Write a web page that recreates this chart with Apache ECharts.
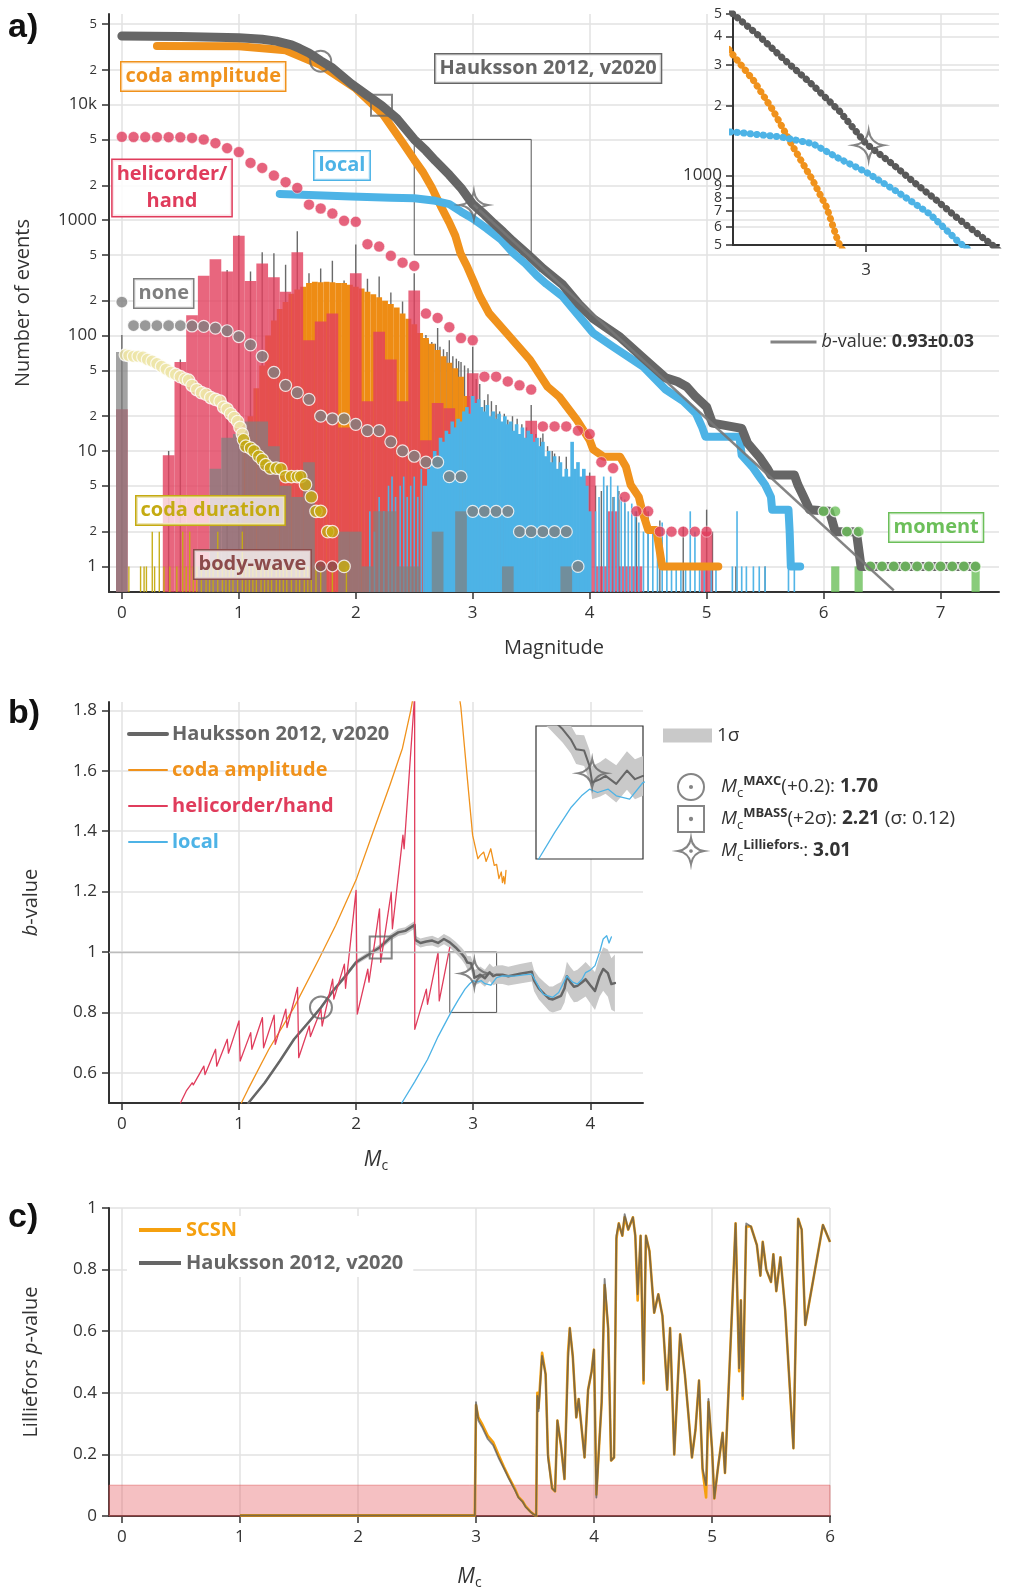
<!DOCTYPE html>
<html>
<head>
<meta charset="utf-8">
<title>Magnitude of completeness</title>
<script src="https://cdn.jsdelivr.net/npm/echarts@6/dist/echarts.min.js"></script>
<style>
  html, body { margin: 0; padding: 0; background: #fff; }
  #chart { width: 1009px; height: 1595px; }
</style>
</head>
<body>
<div id="chart"></div>
<script>
// ---------- a) cumulative counts [magnitude, number of events] ----------
const haukCum = [[0,39300],[0.5,39000],[1.0,38000],[1.2,36800],[1.32,35500],[1.45,33000],[1.52,30700],[1.6,28000],[1.7,24000],[1.8,20800],[1.96,15200],[2.1,12000],[2.22,9860],[2.35,7600],[2.5,5000],[2.6,4000],[2.68,3270],[2.8,2460],[2.9,1900],[3.0,1373],[3.1,1120],[3.18,935],[3.26,790],[3.34,659],[3.47,505],[3.6,380],[3.77,275],[3.91,186],[4.03,140],[4.25,98.6],[4.45,65],[4.65,43],[4.75,40],[4.83,36],[4.9,30],[5.0,24],[5.05,17.4],[5.3,15.7],[5.35,11.7],[5.45,8.9],[5.52,7],[5.55,6.2],[5.75,6.2],[5.78,5.1],[5.83,4],[5.88,3.1],[6.05,3],[6.1,2],[6.28,2],[6.32,1],[7.3,1]];
const codaAmpCum = [[0.3,32200],[1.0,32000],[1.4,29600],[1.7,22000],[2.0,13800],[2.23,8300],[2.4,4700],[2.5,3325],[2.576,2590],[2.65,1917],[2.726,1328],[2.8,951],[2.852,728],[2.896,513],[2.95,400],[3.01,290],[3.06,220],[3.14,156],[3.29,105],[3.49,61.6],[3.64,36],[3.74,29.5],[3.89,18.6],[4.0,12.4],[4.03,10.3],[4.12,8.9],[4.26,8.9],[4.31,7.3],[4.35,5.1],[4.42,4],[4.45,3],[4.5,2.07],[4.57,2.07],[4.62,1],[5.1,1]];
const localCum = [[1.35,1683],[1.6,1650],[1.96,1600],[2.3,1560],[2.5,1543],[2.68,1468],[2.8,1373],[2.9,1182],[3.0,1034],[3.12,846],[3.24,681],[3.35,513],[3.45,420],[3.55,330],[3.63,280],[3.77,217],[4.03,105],[4.2,80],[4.46,53.5],[4.65,34],[4.8,27],[4.91,21],[4.96,16.2],[4.99,13.3],[5.28,13.3],[5.3,9.2],[5.39,7.3],[5.45,6],[5.5,5.1],[5.55,4],[5.56,3.1],[5.7,3.1],[5.71,2],[5.72,1],[5.8,1]];
const heliCum = [[0,5260],[0.1,5240],[0.2,5235],[0.3,5230],[0.4,5225],[0.5,5215],[0.6,5150],[0.7,4990],[0.8,4640],[0.9,4200],[1.0,3880],[1.1,3130],[1.2,2830],[1.3,2430],[1.4,2130],[1.5,1900],[1.6,1360],[1.7,1260],[1.8,1140],[1.9,986],[2.0,967],[2.1,618],[2.2,590],[2.3,490],[2.4,428],[2.5,401],[2.6,155],[2.7,142],[2.8,118],[2.9,95],[3.0,91],[3.1,44],[3.2,44],[3.3,40],[3.4,37],[3.5,34],[3.6,16.3],[3.7,16.3],[3.8,16.3],[3.9,15],[4.0,14],[4.1,8],[4.2,7.1],[4.3,4],[4.4,3],[4.5,3],[4.6,2],[4.7,2],[4.8,2],[4.9,2],[5.0,2]];
const noneCum = [[0,195],[0.1,122],[0.2,122],[0.3,122],[0.4,122],[0.5,122],[0.6,121],[0.7,120],[0.8,116],[0.9,110],[1.0,98],[1.1,83],[1.2,66],[1.3,48],[1.4,37],[1.5,32],[1.6,28],[1.7,20],[1.8,19],[1.9,19],[2.0,17],[2.1,15],[2.2,15],[2.3,12],[2.4,10],[2.5,9],[2.6,8],[2.7,8],[2.8,6],[2.9,6],[3.0,3],[3.1,3],[3.2,3],[3.3,3],[3.4,2],[3.5,2],[3.6,2],[3.7,2],[3.8,2],[3.9,1]];
const codaDurCum = [[0.03,68],[0.06,67],[0.1,66],[0.14,66],[0.18,65],[0.22,62],[0.26,60],[0.3,57],[0.34,54],[0.38,51],[0.42,48],[0.46,46],[0.5,44],[0.54,42],[0.57,41],[0.6,37],[0.64,34],[0.68,32],[0.72,31],[0.76,29],[0.8,28],[0.84,27],[0.87,24],[0.9,23],[0.93,21],[0.96,19.5],[0.99,18],[1.01,16],[1.03,14],[1.04,12.5],[1.06,11],[1.1,10.6],[1.13,10],[1.17,9],[1.2,8.4],[1.23,7.6],[1.27,7.1],[1.32,7.1],[1.36,7],[1.4,6],[1.45,6],[1.5,6],[1.53,6],[1.57,5.1],[1.62,4],[1.66,3],[1.7,3],[1.76,2],[1.8,2],[1.9,1]];
const bodyCum = [[1.7,1],[1.8,1]];
const momentCum = [[6.0,3],[6.1,3],[6.2,2],[6.3,2],[6.4,1],[6.5,1],[6.6,1],[6.7,1],[6.8,1],[6.9,1],[7.0,1],[7.1,1],[7.2,1],[7.3,1]];

// ---------- a) histograms [magnitude, count] ----------
const haukHist = [[0.0,101],[0.4,10],[0.5,62],[0.9,370],[1.0,740],[1.1,358],[1.2,527],[1.3,515],[1.4,410],[1.5,800],[1.6,347],[1.7,380],[1.8,445],[1.9,300],[2.0,613],[2.1,310],[2.2,324],[2.3,236],[2.4,197],[2.5,347],[2.6,101],[2.62,92],[2.65,88],[2.68,85],[2.7,116],[2.72,80],[2.75,76],[2.78,72],[2.8,91],[2.83,66],[2.86,63],[2.88,60],[2.9,59],[2.93,55],[2.96,52],[3.0,80],[3.03,42],[3.06,38],[3.1,27.6],[3.13,31],[3.16,27],[3.2,25],[3.23,22],[3.27,21],[3.3,18.6],[3.34,20],[3.38,19],[3.42,17],[3.46,16],[3.5,25],[3.54,14],[3.58,13],[3.6,14.2],[3.64,11],[3.68,10],[3.7,9.5],[3.74,9],[3.8,8.9],[3.85,8],[3.9,7.5],[3.95,6],[4.0,6.5],[4.05,5],[4.1,4.5],[4.15,5],[4.2,4],[4.25,4.5],[4.3,3.5],[4.4,3],[4.5,3],[4.6,2.5],[4.8,2.2],[5.0,3.1],[5.05,2],[5.25,1],[5.5,1]];
const codaAmpHist = [[1.05,12],[1.1,20],[1.15,35],[1.2,55],[1.25,100],[1.3,135],[1.35,170],[1.4,195],[1.45,230],[1.5,250],[1.55,265],[1.6,285],[1.65,292],[1.7,290],[1.75,292],[1.8,290],[1.85,285],[1.9,285],[1.95,275],[2.0,265],[2.05,255],[2.1,240],[2.15,228],[2.2,215],[2.25,200],[2.3,188],[2.35,175],[2.4,155],[2.45,140],[2.5,125],[2.55,105],[2.6,95],[2.65,85],[2.7,75],[2.75,66],[2.8,58],[2.85,52],[2.9,44],[2.95,30]];
const heliHist = [[0.0,23],[0.4,9.2],[0.5,59],[0.6,150],[0.7,330],[0.8,458],[0.9,358],[1.0,733],[1.1,296],[1.2,420],[1.3,320],[1.4,240],[1.5,527],[1.6,91],[1.7,132],[1.8,155],[1.9,16],[2.0,347],[2.1,27],[2.2,108],[2.3,62],[2.4,27],[2.5,245],[2.6,12.4],[2.7,26],[2.8,23.4],[2.9,3],[3.0,47],[3.2,3],[3.3,3.5],[3.4,3.5],[3.5,18.3],[3.9,1],[4.0,6.1],[4.1,1],[4.2,3],[4.3,1],[4.4,1],[5.0,2]];
const localHist = [[2.6,5],[2.625,7],[2.65,8],[2.675,10],[2.7,9],[2.725,13],[2.75,12],[2.775,15],[2.8,14],[2.825,18],[2.85,16],[2.875,19],[2.9,18],[2.925,22],[2.95,24],[2.975,21],[3.0,30],[3.025,26],[3.05,28],[3.075,24],[3.1,22],[3.125,25],[3.15,20],[3.175,22],[3.2,19],[3.225,21],[3.25,18],[3.275,20],[3.3,17],[3.325,18],[3.35,15],[3.375,17],[3.4,14],[3.425,16],[3.45,13],[3.475,15],[3.5,14],[3.525,12],[3.55,13],[3.575,11],[3.6,12],[3.625,9],[3.65,10],[3.675,8],[3.7,9],[3.725,7],[3.75,8],[3.775,6],[3.8,7],[3.825,6],[3.85,12],[3.875,7],[3.9,8],[3.925,6],[3.95,7],[3.975,5],[4.0,3]];
const localHistSparse = [[2.12,3],[2.16,2],[2.2,4],[2.24,3],[2.28,5],[2.31,6],[2.34,4],[2.38,5],[2.41,6],[2.44,4],[2.47,5],[2.5,6],[2.53,4],[2.56,7],[2.58,5],[4.05,3],[4.08,4],[4.12,6],[4.15,5],[4.18,6],[4.21,4],[4.24,5],[4.27,4],[4.3,3.8],[4.33,3],[4.36,3.5],[4.39,3],[4.42,2.4],[4.46,2],[4.5,2.4],[4.54,2],[4.58,2],[4.62,2.4],[4.66,2],[4.7,1],[4.74,1],[4.78,1],[4.82,1],[4.86,3],[4.9,2],[4.94,1],[4.98,1],[5.04,1],[5.08,1],[5.22,1],[5.26,3],[5.3,1],[5.34,1],[5.4,1],[5.45,1],[5.5,1],[5.7,1],[5.75,1]];
const noneHist = [[0.0,72],[0.7,1],[0.8,7],[0.9,13],[1.0,14],[1.1,18],[1.2,18],[1.3,11],[1.4,5],[1.5,4],[1.6,8],[1.7,1],[1.9,2],[2.0,2],[2.1,1],[2.2,3],[2.3,3],[2.4,1],[2.5,1],[2.7,2],[2.9,3],[3.3,1],[3.8,1]];
const codaDurHist = [[0.06,1],[0.16,1],[0.19,1],[0.21,1],[0.26,2],[0.28,1],[0.32,2],[0.36,1],[0.41,1],[0.47,1],[0.52,2],[0.55,1],[0.58,2],[0.61,1],[0.64,1],[0.68,1],[0.72,1],[0.75,1],[0.78,1],[0.82,2],[0.86,1],[0.89,1],[0.92,1],[0.95,1],[0.99,1],[1.03,2],[1.06,1],[1.09,1],[1.12,1],[1.15,1],[1.19,1],[1.22,1],[1.25,1],[1.28,1],[1.32,1],[1.35,1],[1.38,1],[1.41,1],[1.45,1],[1.49,1],[1.52,1],[1.56,1],[1.59,1],[1.62,1],[1.66,1],[1.7,1],[1.8,1],[1.92,1]];
const momentHist = [[6.1,1],[6.3,1],[7.3,1]];

// Gutenberg-Richter fit and completeness estimates
const bFitLine = [[3.01,1350],[6.6,0.62]];
const bFitText = '0.93±0.03';
const mcMaxcA = [[1.70,23800]];
const mcMbassA = [[2.22,9900]];
const mcLillieA = [[3.01,1350]];
const insetBoxA = [[2.5,500],[3.5,5000]];

const xTicksA = [0,1,2,3,4,5,6,7];
const yTicksA = [1,2,5,10,20,50,100,200,500,1000,2000,5000,10000,20000,50000];
const yTickLabelsA = ['1','2','5','10','2','5','100','2','5','1000','2','5','10k','2','5'];
const yTicksInset = [500,600,700,800,900,1000,2000,3000,4000,5000];
const yTickLabelsInset = ['5','6','7','8','9','1000','2','3','4','5'];

// ---------- b) b-value vs Mc ----------
const bHaukM =   [1.08,1.22,1.35,1.47,1.6,1.70,1.8,1.9,2.0,2.1,2.2,2.3,2.36,2.42,2.5,2.505,2.55,2.6,2.65,2.7,2.75,2.8,2.85,2.9,2.93,2.95,2.98,3.0,3.01,3.04,3.06,3.1,3.14,3.17,3.2,3.25,3.3,3.4,3.5,3.52,3.56,3.61,3.65,3.68,3.72,3.75,3.78,3.8,3.83,3.86,3.89,3.93,3.96,4.0,4.04,4.08,4.11,4.15,4.18,4.21];
const bHaukVal = [0.5,0.567,0.64,0.711,0.77,0.816,0.87,0.916,0.966,0.99,1.015,1.05,1.065,1.07,1.09,1.04,1.03,1.035,1.038,1.03,1.043,1.032,1.015,0.995,0.98,0.965,0.963,0.94,0.915,0.92,0.925,0.913,0.933,0.92,0.925,0.925,0.92,0.928,0.935,0.905,0.88,0.86,0.845,0.843,0.85,0.855,0.88,0.92,0.9,0.885,0.888,0.9,0.91,0.89,0.871,0.92,0.944,0.93,0.894,0.897];
const bHaukSig = [0.004,0.004,0.005,0.005,0.006,0.006,0.007,0.007,0.008,0.009,0.01,0.011,0.012,0.012,0.013,0.014,0.015,0.015,0.016,0.016,0.017,0.018,0.019,0.02,0.021,0.022,0.023,0.024,0.025,0.026,0.027,0.028,0.029,0.03,0.03,0.031,0.031,0.032,0.033,0.035,0.037,0.039,0.041,0.043,0.045,0.046,0.047,0.048,0.05,0.051,0.053,0.055,0.057,0.06,0.063,0.067,0.072,0.078,0.085,0.095];
const bCodaLow = [[1.02,0.5],[1.077,0.545],[1.255,0.678],[1.469,0.816],[1.683,0.977],[1.825,1.088],[2.004,1.243],[2.146,1.398],[2.289,1.553],[2.396,1.675],[2.467,1.8],[2.49,1.85]];
const bCodaHigh = [[2.88,1.85],[2.895,1.81],[2.95,1.575],[2.995,1.387],[3.04,1.309],[3.06,1.32],[3.09,1.331],[3.11,1.3],[3.13,1.32],[3.15,1.342],[3.18,1.287],[3.2,1.29],[3.22,1.243],[3.24,1.265],[3.25,1.23],[3.26,1.25],[3.27,1.226],[3.28,1.27]];
const bHeli = [[0.5,0.5],[0.55,0.54],[0.6,0.567],[0.61,0.56],[0.7,0.622],[0.71,0.594],[0.8,0.678],[0.81,0.622],[0.9,0.711],[0.91,0.665],[1.0,0.772],[1.01,0.639],[1.1,0.733],[1.11,0.678],[1.2,0.783],[1.21,0.683],[1.3,0.791],[1.31,0.694],[1.4,0.811],[1.41,0.75],[1.5,0.883],[1.51,0.65],[1.6,0.755],[1.61,0.72],[1.7,0.81],[1.71,0.755],[1.8,0.91],[1.81,0.844],[1.9,0.96],[1.91,0.88],[2.0,1.204],[2.01,0.794],[2.1,0.943],[2.11,0.9],[2.2,1.143],[2.21,0.966],[2.3,1.198],[2.31,1.077],[2.4,1.387],[2.41,1.342],[2.5,1.85],[2.501,0.744],[2.6,0.877],[2.61,0.827],[2.7,0.999],[2.71,0.838],[2.8,1.015]];
const bLocal = [[2.39,0.5],[2.5,0.57],[2.61,0.644],[2.7,0.72],[2.81,0.8],[2.87,0.84],[2.93,0.877],[2.97,0.895],[3.0,0.905],[3.03,0.9],[3.07,0.905],[3.1,0.895],[3.15,0.89],[3.2,0.915],[3.25,0.921],[3.35,0.92],[3.45,0.925],[3.5,0.927],[3.57,0.877],[3.6,0.86],[3.64,0.855],[3.68,0.85],[3.73,0.866],[3.8,0.921],[3.85,0.9],[3.89,0.894],[3.93,0.91],[3.96,0.932],[4.0,0.94],[4.04,0.955],[4.08,1.0],[4.11,1.043],[4.14,1.054],[4.16,1.03],[4.18,1.05]];
const mcMaxcB = [[1.70,0.816]];
const mcMbassB = [[2.21,1.015]];
const mcLillieB = [[3.01,0.929]];
const insetBoxB = [[2.8,0.8],[3.2,1.0]];
const xTicksB = [0,1,2,3,4];
const yTicksB = [0.6,0.8,1,1.2,1.4,1.6,1.8];

// ---------- c) Lilliefors p-value vs Mc ----------
const pM =    [1.0,2.99,3.0,3.02,3.05,3.1,3.145,3.19,3.236,3.28,3.33,3.36,3.395,3.42,3.46,3.49,3.51,3.52,3.53,3.56,3.59,3.61,3.645,3.67,3.69,3.72,3.75,3.78,3.795,3.82,3.85,3.87,3.92,3.95,3.98,4.0,4.02,4.045,4.065,4.09,4.12,4.145,4.17,4.19,4.21,4.24,4.26,4.29,4.33,4.35,4.37,4.395,4.42,4.44,4.47,4.51,4.545,4.58,4.62,4.645,4.68,4.73,4.77,4.8,4.83,4.86,4.89,4.92,4.95,4.97,5.0,5.02,5.05,5.09,5.11,5.17,5.2,5.23,5.245,5.26,5.29,5.33,5.38,5.41,5.43,5.46,5.5,5.52,5.545,5.58,5.62,5.69,5.73,5.76,5.79,5.94,6.0];
const pHauk = [0.002,0.002,0.37,0.31,0.29,0.25,0.23,0.19,0.155,0.12,0.084,0.06,0.046,0.03,0.014,0.005,0.0,0.39,0.34,0.52,0.46,0.19,0.09,0.08,0.31,0.23,0.12,0.51,0.61,0.52,0.32,0.38,0.19,0.41,0.47,0.54,0.06,0.24,0.37,0.77,0.61,0.18,0.19,0.91,0.95,0.91,0.98,0.93,0.97,0.91,0.72,0.91,0.44,0.91,0.86,0.66,0.72,0.65,0.41,0.61,0.2,0.59,0.46,0.33,0.19,0.28,0.44,0.155,0.1,0.38,0.22,0.057,0.155,0.27,0.14,0.67,0.95,0.48,0.7,0.39,0.95,0.94,0.88,0.78,0.89,0.8,0.76,0.85,0.73,0.84,0.67,0.22,0.965,0.93,0.62,0.945,0.89];
const pSCSN = [0.002,0.002,0.36,0.32,0.3,0.26,0.24,0.2,0.16,0.125,0.088,0.062,0.048,0.032,0.015,0.005,0.0,0.4,0.35,0.53,0.46,0.2,0.09,0.08,0.31,0.23,0.12,0.53,0.61,0.52,0.32,0.38,0.19,0.41,0.47,0.54,0.07,0.24,0.37,0.75,0.61,0.18,0.19,0.9,0.95,0.91,0.97,0.93,0.97,0.91,0.7,0.91,0.43,0.91,0.86,0.66,0.72,0.65,0.41,0.61,0.2,0.59,0.46,0.33,0.19,0.28,0.44,0.15,0.06,0.37,0.22,0.057,0.155,0.27,0.14,0.67,0.95,0.47,0.7,0.38,0.94,0.94,0.88,0.78,0.89,0.8,0.76,0.85,0.73,0.84,0.67,0.22,0.965,0.93,0.62,0.945,0.89];
const pRejectBelow = 0.1;
const xTicksC = [0,1,2,3,4,5,6];

// ---------- styling ----------
const FONT = "'Open Sans', 'DejaVu Sans', sans-serif";
const AXIS_COLOR = '#333';
const GRID_COLOR = '#e2e2e2';
const GRAY = '#666666';
const ORANGE = '#F0921C';
const ORANGE_HIST = '#EE8C14';
const SCSN_ORANGE = '#F5A00F';
const RED = '#E03C5C';
const BLUE = '#4DB3E6';
const GREEN = '#6CBF5A';
const OLIVE = '#C5AB12';
const PALE_OLIVE = '#EEE5A6';
const BROWN = '#8C4B4B';
const NONE_GRAY = '#7f7f7f';
const X_MIN = -0.11;
const A_YMIN = 0.6;
const A_YMAX = 61000;
const CODA_PALE_UNTIL = 1.04;
const NOSYM = { color: 'rgba(0,0,0,0)', borderWidth: 0 };
const STAR = 'path://M12,0Q13.6,10.4,24,12Q13.6,13.6,12,24Q10.4,13.6,0,12Q10.4,10.4,12,0Z';
const CIRCLE_DOT = 'path://M12,2A10,10,0,1,1,11.99,2ZM12,11.2A0.8,0.8,0,1,1,11.99,11.2Z';
const SQUARE_DOT = 'path://M3,3H21V21H3ZM12,11.2A0.8,0.8,0,1,1,11.99,11.2Z';
const STAR_DOT = 'path://M12,0Q13.6,10.4,24,12Q13.6,13.6,12,24Q10.4,13.6,0,12Q10.4,10.4,12,0ZM12,11.2A0.8,0.8,0,1,1,11.99,11.2Z';

function deepMerge(a, b) {
  const out = Object.assign({}, a);
  for (const k in b) {
    const v = b[k];
    if (v && typeof v === 'object' && !Array.isArray(v) && a[k] && typeof a[k] === 'object' && !Array.isArray(a[k])) {
      out[k] = deepMerge(a[k], v);
    } else {
      out[k] = v;
    }
  }
  return out;
}

function axis(gridIndex, extra) {
  const base = {
    gridIndex,
    type: 'value',
    axisLine: { show: true, onZero: false, lineStyle: { color: AXIS_COLOR, width: 2 } },
    axisTick: { show: true, length: 7, lineStyle: { color: AXIS_COLOR, width: 1.5 } },
    axisLabel: { color: '#333', fontSize: 17, fontFamily: FONT, margin: 12 },
    splitLine: { show: true, lineStyle: { color: GRID_COLOR, width: 1.5 } },
    nameTextStyle: { color: '#333', fontSize: 20, fontFamily: FONT }
  };
  return deepMerge(base, extra);
}

function tickLabel(ticks, labels) {
  return function (v) {
    let i = ticks.findIndex(t => Math.abs(t - v) <= Math.abs(t) * 1e-6);
    if (i < 0) i = ticks.findIndex(t => Math.abs(t - Math.pow(10, v)) <= t * 1e-6);
    if (i < 0) return '';
    const s = labels[i];
    return (s.length > 1 || s === '1') ? '{big|' + s + '}' : '{sm|' + s + '}';
  };
}

function histSeries(name, data, binWidth, color, opacity, z) {
  return {
    type: 'custom', name, xAxisIndex: 0, yAxisIndex: 0, z, silent: true,
    encode: { x: 0, y: 1 },
    data,
    renderItem(params, api) {
      const m = api.value(0), n = api.value(1);
      const tl = api.coord([m - binWidth / 2, n]);
      const br = api.coord([m + binWidth / 2, A_YMIN]);
      return {
        type: 'rect',
        shape: { x: tl[0], y: tl[1], width: Math.max(1.2, br[0] - tl[0]), height: br[1] - tl[1] },
        style: { fill: color, opacity }
      };
    }
  };
}

function dotSeries(name, data, color, size, border, z) {
  return {
    type: 'scatter', name, xAxisIndex: 0, yAxisIndex: 0, data, symbolSize: size, z, silent: true,
    itemStyle: { color, borderColor: '#fff', borderWidth: border }
  };
}

function lineSeries(name, data, color, width, xi, yi, z, extra) {
  return Object.assign({
    type: 'line', name, xAxisIndex: xi, yAxisIndex: yi, data, symbol: 'none', z, silent: true,
    lineStyle: { color, width, cap: 'round', join: 'round' }
  }, extra || {});
}

function markerSeries(name, data, symbol, size, xi, yi, z) {
  return {
    type: 'scatter', name, xAxisIndex: xi, yAxisIndex: yi, data, symbol, symbolSize: size, z, silent: true,
    itemStyle: { color: 'rgba(0,0,0,0)', borderColor: GRAY, borderWidth: 2 }
  };
}

const bandRows = bHaukM.map((m, i) => [m, bHaukVal[i] - bHaukSig[i], bHaukVal[i] + bHaukSig[i]]);
const bHaukLine = bHaukM.map((m, i) => [m, bHaukVal[i]]);
function bandSeries(name, xi, yi, z) {
  return {
    type: 'custom', name, xAxisIndex: xi, yAxisIndex: yi, z, silent: true, clip: true,
    encode: { x: 0, y: [1, 2] },
    data: bandRows,
    itemStyle: { color: '#c9c9c9' },
    renderItem(params, api) {
      if (params.dataIndex !== 0) return;
      const upper = bandRows.map(r => api.coord([r[0], r[2]]));
      const lower = bandRows.map(r => api.coord([r[0], r[1]])).reverse();
      return { type: 'polygon', shape: { points: upper.concat(lower) }, style: { fill: '#c9c9c9' } };
    }
  };
}

function boxLabel(text, left, top, color, bg) {
  return {
    type: 'text', left, top, z: 50, silent: true,
    style: {
      text, fill: color, fontFamily: FONT, fontWeight: 'bold', fontSize: 20, lineHeight: 26,
      backgroundColor: bg || 'rgba(255,255,255,0.85)', borderColor: color, borderWidth: 1.5, padding: [1, 4, 1, 4]
    }
  };
}

const markerLabels = {
  maxc: '{sp| }{m|M}{sub|c}{sup|MAXC}{t|(+0.2): }{b|1.70}',
  mbass: '{sp| }{m|M}{sub|c}{sup|MBASS}{t|(+2σ): }{b|2.21}{t| (σ: 0.12)}',
  lillie: '{sp| }{m|M}{sub|c}{sup|Lilliefors.}{t|: }{b|3.01}'
};
const richBase = { fontFamily: FONT, color: '#333' };

const option = {
  animation: false,
  backgroundColor: '#fff',
  textStyle: { fontFamily: FONT },
  grid: [
    { left: 109, top: 14, width: 890, height: 578 },
    { left: 733, top: 14, width: 266, height: 231 },
    { left: 109, top: 702, width: 534, height: 401 },
    { left: 536, top: 726, width: 107, height: 133, show: true, backgroundColor: '#fff', borderColor: '#333', borderWidth: 1.2, z: 3 },
    { left: 109, top: 1208, width: 721, height: 308 }
  ],
  xAxis: [
    axis(0, { min: X_MIN, max: 7.5, axisTick: { customValues: xTicksA }, axisLabel: { customValues: xTicksA, margin: 13 },
      name: 'Magnitude', nameLocation: 'middle', nameGap: 46 }),
    axis(1, { min: insetBoxA[0][0], max: insetBoxA[1][0], axisTick: { customValues: [3] }, axisLabel: { customValues: [3], margin: 17 } }),
    axis(2, { min: X_MIN, max: 4.45, axisTick: { customValues: xTicksB }, axisLabel: { customValues: xTicksB, margin: 13 },
      name: '{i|M}{s|c}', nameLocation: 'middle', nameGap: 44,
      nameTextStyle: { rich: { i: Object.assign({ fontSize: 21, fontStyle: 'italic' }, richBase), s: Object.assign({ fontSize: 14, padding: [12, 0, 0, 0] }, richBase) } } }),
    axis(3, { min: insetBoxB[0][0], max: insetBoxB[1][0], show: false }),
    axis(4, { min: X_MIN, max: 6, axisTick: { customValues: xTicksC }, axisLabel: { customValues: xTicksC, margin: 13 },
      name: '{i|M}{s|c}', nameLocation: 'middle', nameGap: 48,
      nameTextStyle: { rich: { i: Object.assign({ fontSize: 21, fontStyle: 'italic' }, richBase), s: Object.assign({ fontSize: 14, padding: [12, 0, 0, 0] }, richBase) } } })
  ],
  yAxis: [
    axis(0, { type: 'log', logBase: 10, min: A_YMIN, max: A_YMAX,
      axisTick: { customValues: yTicksA },
      axisLabel: { customValues: yTicksA, formatter: tickLabel(yTicksA, yTickLabelsA),
        rich: { big: Object.assign({ fontSize: 17 }, richBase), sm: Object.assign({ fontSize: 13 }, richBase) } },
      name: 'Number of events', nameLocation: 'middle', nameGap: 76 }),
    axis(1, { type: 'log', logBase: 10, min: insetBoxA[0][1], max: insetBoxA[1][1],
      axisTick: { customValues: yTicksInset },
      axisLabel: { customValues: yTicksInset, formatter: tickLabel(yTicksInset, yTickLabelsInset), margin: 11,
        rich: { big: Object.assign({ fontSize: 17 }, richBase), sm: Object.assign({ fontSize: 14, lineHeight: 14 }, richBase) } } }),
    axis(2, { min: 0.5, max: 1.828, axisTick: { customValues: yTicksB }, axisLabel: { customValues: yTicksB },
      name: '{i|b}-value', nameLocation: 'middle', nameGap: 68,
      nameTextStyle: { rich: { i: Object.assign({ fontSize: 20, fontStyle: 'italic' }, richBase) } } }),
    axis(3, { min: insetBoxB[0][1], max: insetBoxB[1][1], show: false }),
    axis(4, { min: 0, max: 1, interval: 0.2, axisLabel: { formatter: v => String(Math.round(v * 10) / 10) },
      name: 'Lilliefors {i|p}-value', nameLocation: 'middle', nameGap: 68,
      nameTextStyle: { rich: { i: Object.assign({ fontSize: 20, fontStyle: 'italic' }, richBase) } } })
  ],
  legend: [
    {
      left: 764, top: 328, itemWidth: 46, itemHeight: 14, selectedMode: false,
      data: [{ name: 'a-fit', itemStyle: NOSYM, lineStyle: { width: 3, color: '#777' } }],
      formatter: () => '{i|b}-value: {v|' + bFitText + '}',
      textStyle: { fontFamily: FONT, fontSize: 18, color: '#333',
        rich: { i: Object.assign({ fontSize: 18, fontStyle: 'italic' }, richBase), v: Object.assign({ fontSize: 18, fontWeight: 'bold' }, richBase) } }
    },
    {
      orient: 'vertical', left: 122, top: 719, itemGap: 16, itemWidth: 38, itemHeight: 14, selectedMode: false,
      textStyle: { fontFamily: FONT, fontSize: 20, fontWeight: 'bold' },
      data: [
        { name: 'Hauksson 2012, v2020', itemStyle: NOSYM, lineStyle: { width: 4, color: GRAY }, textStyle: { color: GRAY } },
        { name: 'coda amplitude', itemStyle: NOSYM, lineStyle: { width: 2, color: ORANGE }, textStyle: { color: ORANGE } },
        { name: 'helicorder/hand', itemStyle: NOSYM, lineStyle: { width: 2, color: RED }, textStyle: { color: RED } },
        { name: 'local', itemStyle: NOSYM, lineStyle: { width: 2, color: BLUE }, textStyle: { color: BLUE } }
      ]
    },
    {
      left: 658, top: 721, itemWidth: 49, itemHeight: 14, selectedMode: false,
      data: [{ name: '1σ', icon: 'rect', itemStyle: { color: '#c9c9c9' } }],
      textStyle: { fontFamily: FONT, fontSize: 19, color: '#333' }
    },
    {
      orient: 'vertical', left: 672, top: 768, itemGap: 4, itemWidth: 26, itemHeight: 26, selectedMode: false,
      data: [{ name: 'maxc', icon: CIRCLE_DOT }, { name: 'mbass', icon: SQUARE_DOT }, { name: 'lillie', icon: STAR_DOT }],
      formatter: n => markerLabels[n],
      textStyle: { fontFamily: FONT, fontSize: 19, color: '#333',
        rich: {
          sp: { width: 12 },
          m: Object.assign({ fontSize: 19, fontStyle: 'italic' }, richBase),
          sub: Object.assign({ fontSize: 13, padding: [12, 0, 0, 0] }, richBase),
          sup: Object.assign({ fontSize: 13, fontWeight: 'bold', padding: [0, 0, 12, 0] }, richBase),
          t: Object.assign({ fontSize: 19 }, richBase),
          b: Object.assign({ fontSize: 19, fontWeight: 'bold' }, richBase)
        } }
    },
    {
      orient: 'vertical', left: 127, top: 1216, itemGap: 13, itemWidth: 42, itemHeight: 14, selectedMode: false,
      backgroundColor: '#fff', padding: [4, 10, 4, 10],
      textStyle: { fontFamily: FONT, fontSize: 20, fontWeight: 'bold' },
      formatter: n => (n === 'c-scsn' ? 'SCSN' : 'Hauksson 2012, v2020'),
      data: [
        { name: 'c-scsn', itemStyle: NOSYM, lineStyle: { width: 4, color: SCSN_ORANGE, opacity: 1 }, textStyle: { color: SCSN_ORANGE } },
        { name: 'c-hauk', itemStyle: NOSYM, lineStyle: { width: 4, color: GRAY, opacity: 1 }, textStyle: { color: GRAY } }
      ]
    }
  ],
  graphic: [
    { type: 'text', left: 8, top: 11, silent: true, style: { text: 'a)', fill: '#111', fontFamily: "'Liberation Sans', Arial, sans-serif", fontWeight: 'bold', fontSize: 34 } },
    { type: 'text', left: 8, top: 697, silent: true, style: { text: 'b)', fill: '#111', fontFamily: "'Liberation Sans', Arial, sans-serif", fontWeight: 'bold', fontSize: 34 } },
    { type: 'text', left: 8, top: 1201, silent: true, style: { text: 'c)', fill: '#111', fontFamily: "'Liberation Sans', Arial, sans-serif", fontWeight: 'bold', fontSize: 34 } },
    boxLabel('coda amplitude', 120, 61, ORANGE),
    boxLabel('Hauksson 2012, v2020', 434, 53, GRAY),
    boxLabel('local', 313, 150, BLUE),
    {
      type: 'text', x: 172, y: 160, z: 50, silent: true,
      style: {
        text: 'helicorder/\nhand', fill: RED, fontFamily: FONT, fontWeight: 'bold', fontSize: 20, lineHeight: 27,
        align: 'center', verticalAlign: 'top',
        backgroundColor: 'rgba(255,255,255,0.85)', borderColor: RED, borderWidth: 1.5, padding: [1, 4, 1, 4]
      }
    },
    boxLabel('none', 133, 278, NONE_GRAY),
    boxLabel('coda duration', 135, 495, OLIVE, 'rgba(255,255,255,0.7)'),
    boxLabel('body-wave', 193, 549, BROWN, 'rgba(255,255,255,0.75)'),
    boxLabel('moment', 888, 512, GREEN)
  ],
  series: [
    // a) histograms
    histSeries('a-hauk-hist', haukHist, 0.012, '#5a5a5a', 0.9, 1),
    histSeries('a-coda-hist', codaAmpHist, 0.05, ORANGE_HIST, 1, 2),
    histSeries('a-heli-hist', heliHist, 0.1, '#E2405E', 0.8, 3),
    histSeries('a-local-hist', localHist, 0.031, BLUE, 1, 4),
    histSeries('a-local-hist2', localHistSparse, 0.014, BLUE, 0.97, 4),
    histSeries('a-none-hist', noneHist, 0.1, NONE_GRAY, 0.72, 5),
    histSeries('a-dur-hist', codaDurHist, 0.012, OLIVE, 0.95, 6),
    histSeries('a-mom-hist', momentHist, 0.07, GREEN, 0.8, 6),
    // a) cumulative curves
    lineSeries('a-coda', codaAmpCum, ORANGE, 8, 0, 0, 7),
    lineSeries('a-local', localCum, BLUE, 8, 0, 0, 7),
    lineSeries('a-hauk', haukCum, GRAY, 9, 0, 0, 7),
    dotSeries('a-heli', heliCum, RED, 11, 0.6, 8),
    dotSeries('a-none', noneCum, NONE_GRAY, 12, 1.2, 8),
    {
      type: 'scatter', name: 'a-dur', xAxisIndex: 0, yAxisIndex: 0, data: codaDurCum, symbolSize: 12.5, z: 8, silent: true,
      itemStyle: { color: p => (p.data[0] < CODA_PALE_UNTIL ? PALE_OLIVE : OLIVE), borderColor: '#fff', borderWidth: 1.2 }
    },
    dotSeries('a-body', bodyCum, BROWN, 11, 1.2, 8),
    dotSeries('a-moment', momentCum, GREEN, 11, 1.2, 8),
    lineSeries('a-fit', bFitLine, '#777', 2.6, 0, 0, 9, {
      lineStyle: { color: '#777', width: 2.6, opacity: 0.9 },
      markArea: { silent: true, itemStyle: { color: 'rgba(0,0,0,0)', borderColor: '#555', borderWidth: 1 },
        data: [[{ coord: insetBoxA[0] }, { coord: insetBoxA[1] }]] }
    }),
    markerSeries('a-maxc', mcMaxcA, 'circle', 21, 0, 0, 10),
    markerSeries('a-mbass', mcMbassA, 'rect', 21, 0, 0, 10),
    markerSeries('a-lillie', mcLillieA, STAR, 28, 0, 0, 10),
    // a) inset
    lineSeries('i-coda', codaAmpCum, ORANGE, 7, 1, 1, 7, { lineStyle: { color: ORANGE, width: 7, cap: 'round', type: [0.1, 6.5] } }),
    lineSeries('i-local', localCum, BLUE, 7, 1, 1, 7, { lineStyle: { color: BLUE, width: 7, cap: 'round', type: [0.1, 6.5] } }),
    lineSeries('i-hauk', haukCum, '#595959', 7, 1, 1, 8, { lineStyle: { color: '#595959', width: 7, cap: 'round', type: [0.1, 6.5] } }),
    markerSeries('i-lillie', mcLillieA, STAR, 30, 1, 1, 10),

    // b) b-value
    bandSeries('1σ', 2, 2, 1),
    lineSeries('Hauksson 2012, v2020', bHaukLine, GRAY, 2.5, 2, 2, 3, {
      markLine: { silent: true, symbol: 'none', label: { show: false }, lineStyle: { color: '#bcbcbc', width: 1.3, type: 'solid' }, data: [{ yAxis: 1 }] },
      markArea: { silent: true, itemStyle: { color: 'rgba(0,0,0,0)', borderColor: '#555', borderWidth: 1 },
        data: [[{ coord: insetBoxB[0] }, { coord: insetBoxB[1] }]] }
    }),
    lineSeries('local', bLocal, BLUE, 1.3, 2, 2, 4),
    lineSeries('coda amplitude', bCodaLow, ORANGE, 1.3, 2, 2, 4),
    lineSeries('coda amplitude', bCodaHigh, ORANGE, 1.3, 2, 2, 4),
    lineSeries('helicorder/hand', bHeli, RED, 1.3, 2, 2, 4),
    markerSeries('maxc', mcMaxcB, 'circle', 22, 2, 2, 6),
    markerSeries('mbass', mcMbassB, 'rect', 22, 2, 2, 6),
    markerSeries('lillie', mcLillieB, STAR, 28, 2, 2, 6),
    // b) inset
    bandSeries('1σ inset', 3, 3, 5),
    lineSeries('b-inset-hauk', bHaukLine, GRAY, 2, 3, 3, 6),
    lineSeries('b-inset-local', bLocal, BLUE, 1.3, 3, 3, 6),
    markerSeries('b-inset-lillie', mcLillieB, STAR, 28, 3, 3, 7),

    // c) p-value
    lineSeries('c-scsn', pM.map((m, i) => [m, pSCSN[i]]), SCSN_ORANGE, 2.6, 4, 4, 3, {
      lineStyle: { color: SCSN_ORANGE, width: 2.6, join: 'round' },
      markArea: { silent: true, itemStyle: { color: 'rgba(228,90,95,0.38)', borderColor: 'rgba(220,90,90,0.55)', borderWidth: 1 },
        data: [[{ yAxis: 0 }, { yAxis: pRejectBelow }]] }
    }),
    lineSeries('c-hauk', pM.map((m, i) => [m, pHauk[i]]), '#555', 1.8, 4, 4, 4, {
      lineStyle: { color: '#555', width: 1.8, opacity: 0.72, join: 'round' }
    })
  ]
};

const chart = echarts.init(document.getElementById('chart'), null, { renderer: 'canvas' });
chart.setOption(option);
</script>
</body>
</html>
